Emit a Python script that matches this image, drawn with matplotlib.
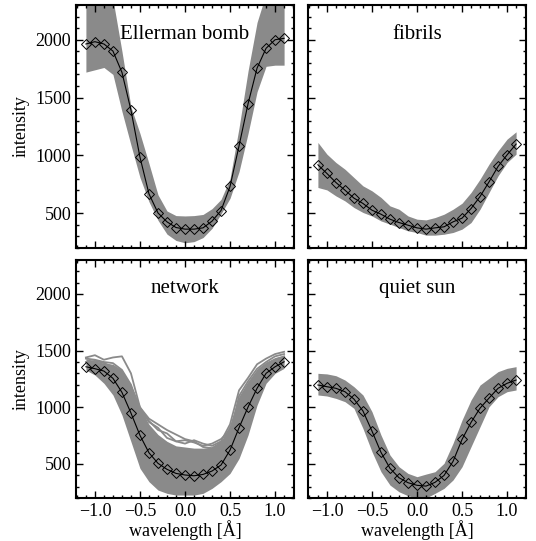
import matplotlib
matplotlib.use("Agg")
import matplotlib.pyplot as plt
from matplotlib.ticker import MultipleLocator

plt.rcParams['font.family'] = ['Liberation Serif', 'DejaVu Serif']

# wavelength grid of the mean profiles
wave = [-1.1, -1.0, -0.9, -0.8, -0.7, -0.6, -0.5, -0.4, -0.3, -0.2, -0.1, 0.0,
        0.1, 0.2, 0.3, 0.4, 0.5, 0.6, 0.7, 0.8, 0.9, 1.0, 1.1]

panel_names = ['Ellerman bomb', 'fibrils', 'network', 'quiet sun']

# mean profiles (diamonds)
eb_mean = [1963, 1983, 1963, 1902, 1718, 1392, 985, 668, 503, 426, 377, 363,
           363, 374, 432, 524, 732, 1083, 1447, 1755, 1926, 2000, 2012]
fib_mean = [919, 844, 766, 700, 631, 585, 527, 492, 449, 420, 397, 374,
            363, 374, 383, 426, 458, 541, 645, 772, 905, 1005, 1098]
net_mean = [1358, 1341, 1320, 1256, 1132, 950, 753, 599, 506, 453, 417, 403,
            396, 408, 438, 491, 623, 820, 1003, 1168, 1300, 1358, 1402]
qs_mean = [1197, 1182, 1168, 1138, 1073, 968, 791, 603, 462, 379, 335, 312,
           305, 338, 399, 523, 717, 867, 993, 1082, 1168, 1212, 1241]

# spread of the individual profiles (grey bundle)
eb_low = [1720, 1740, 1760, 1700, 1380, 1090, 810, 600, 440, 320, 265, 245,
          255, 290, 370, 495, 630, 860, 1190, 1550, 1770, 1780, 1780]
eb_high = [2400, 2400, 2400, 2350, 1900, 1420, 1190, 930, 660, 520, 480, 477,
           480, 490, 540, 620, 800, 1240, 1730, 2150, 2400, 2400, 2400]
fib_low = [723, 702, 650, 607, 550, 507, 477, 434, 406, 377, 348, 334,
           311, 311, 319, 334, 363, 420, 535, 680, 824, 939, 1011]
fib_high = [1112, 1011, 939, 881, 809, 737, 694, 637, 564, 535, 477, 449,
            443, 463, 492, 535, 587, 680, 795, 925, 1040, 1141, 1204]
net_low = [1329, 1285, 1212, 1109, 932, 697, 462, 344, 270, 241, 226, 226,
           226, 241, 285, 344, 417, 549, 756, 1020, 1212, 1300, 1344]
net_high = [1430, 1410, 1390, 1380, 1330, 1200, 1000, 850, 760, 700, 660, 650,
            640, 640, 650, 700, 850, 1100, 1230, 1340, 1400, 1440, 1460]
qs_low = [1109, 1100, 1079, 1050, 991, 814, 609, 432, 314, 255, 220, 200,
          200, 241, 285, 359, 476, 653, 829, 1005, 1094, 1138, 1153]
qs_high = [1300, 1295, 1279, 1241, 1182, 1109, 962, 756, 579, 476, 417, 388,
           411, 432, 506, 683, 888, 1065, 1197, 1256, 1315, 1344, 1359]

# a few outlying network profiles
net_out1 = [1440, 1460, 1420, 1440, 1450, 1300, 1000, 870, 820, 730, 700, 710,
            690, 660, 680, 720, 800, 1050, 1200, 1300, 1380, 1420, 1450]
net_out2 = [1430, 1420, 1400, 1390, 1330, 1200, 980, 880, 800, 770, 700, 680,
            710, 680, 660, 700, 850, 1150, 1260, 1380, 1430, 1470, 1490]
net_out3 = [1400, 1410, 1390, 1360, 1300, 1180, 1000, 900, 850, 800, 760, 720,
            700, 650, 640, 690, 760, 1100, 1230, 1340, 1400, 1450, 1470]

means = [eb_mean, fib_mean, net_mean, qs_mean]
lows = [eb_low, fib_low, net_low, qs_low]
highs = [eb_high, fib_high, net_high, qs_high]

fig = plt.figure(figsize=(5.36, 5.41), dpi=100)
W, H = 536.0, 541.0
boxes = [(76, 5, 294, 248), (308, 5, 526, 248),
         (76, 260, 294, 498), (308, 260, 526, 498)]
grey = '#8a8a8a'

for i, (x0, y0, x1, y1) in enumerate(boxes):
    ax = fig.add_axes([x0 / W, 1 - y1 / H, (x1 - x0) / W, (y1 - y0) / H])
    ax.fill_between(wave, lows[i], highs[i], color=grey, lw=0)
    if i == 2:
        for prof in (net_out1, net_out2, net_out3):
            ax.plot(wave, prof, color=grey, lw=1.3)
    ax.plot(wave, means[i], color='black', lw=0.8, marker='D', ms=5.5,
            mfc='none', mec='black', mew=0.7)
    ax.set_xlim(-1.21, 1.21)
    ax.set_ylim(200, 2300)
    ax.xaxis.set_major_locator(MultipleLocator(0.5))
    ax.xaxis.set_minor_locator(MultipleLocator(0.1))
    ax.yaxis.set_major_locator(MultipleLocator(500))
    ax.yaxis.set_minor_locator(MultipleLocator(100))
    ax.tick_params(which='both', direction='in', top=True, right=True,
                   labelsize=13, width=1.0)
    ax.tick_params(which='major', length=5)
    ax.tick_params(which='minor', length=2.5)
    for s in ax.spines.values():
        s.set_linewidth(1.5)
    ax.text(0.5, 0.88, panel_names[i], transform=ax.transAxes,
            ha='center', va='center', fontsize=15)
    if i % 2 == 0:
        ax.set_ylabel('intensity', fontsize=13)
    else:
        ax.set_yticklabels([])
    if i >= 2:
        ax.set_xlabel('wavelength [Å]', fontsize=13, labelpad=0)
        ax.set_xticks([-1.0, -0.5, 0.0, 0.5, 1.0])
        ax.set_xticklabels(['\u22121.0', '\u22120.5', '0.0', '0.5', '1.0'])
    else:
        ax.set_xticklabels([])

fig.savefig('out.png', dpi=100)
